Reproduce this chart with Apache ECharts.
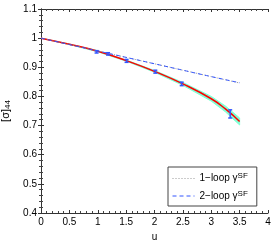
<!DOCTYPE html>
<html><head><meta charset="utf-8">
<script src="https://cdn.jsdelivr.net/npm/echarts@6/dist/echarts.min.js"></script>
<style>html,body{margin:0;padding:0;background:#fff}#c{width:278px;height:241px}</style>
</head><body><div id="c"></div>
<script>
// ---- data ----
var fitU    = [0, 0.5, 1.0, 1.5, 2.0, 2.5, 3.0, 3.25, 3.5];
var fitVal  = [1.000, 0.979, 0.955, 0.923, 0.886, 0.843, 0.792, 0.757, 0.714];
var fitErr  = [0.000, 0.001, 0.002, 0.002, 0.003, 0.005, 0.008, 0.010, 0.012];
var ptU     = [0, 0.5, 1.0, 1.5, 2.0, 2.5, 3.0, 3.5];
var oneLoop = [1.000, 0.978, 0.956, 0.934, 0.912, 0.890, 0.868, 0.846];
var twoLoop = [1.000, 0.978, 0.956, 0.934, 0.912, 0.890, 0.868, 0.847];
var dataU   = [0.9793, 1.1814, 1.5078, 2.0142, 2.4792, 3.3340];
var dataVal = [0.953, 0.946, 0.922, 0.885, 0.843, 0.740];
var dataErr = [0.004, 0.004, 0.005, 0.005, 0.006, 0.014];
var xTicks  = ['0','0.5','1','1.5','2','2.5','3','3.5','4'];
var yTicks  = ['0.4','0.5','0.6','0.7','0.8','0.9','1','1.1'];

var chart = echarts.init(document.getElementById('c'), null, {renderer:'canvas'});
function zip(a,b){return a.map(function(v,i){return [v,b[i]];});}
var bandData = fitU.map(function(u,i){return [u, fitVal[i]-fitErr[i], fitVal[i]+fitErr[i]];});
var errData = dataU.map(function(u,i){return [u, dataVal[i]-dataErr[i], dataVal[i]+dataErr[i]];});

var font = 'Liberation Sans';
var tickCommon = {
  axisLine:{show:true,lineStyle:{color:'#333',width:1}},
  axisTick:{show:true,inside:true,length:3,lineStyle:{color:'#333'}},
  minorTick:{show:true,splitNumber:5,length:2,lineStyle:{color:'#444'}},
  splitLine:{show:false}
};
function ax(extra){return Object.assign({}, JSON.parse(JSON.stringify(tickCommon)), extra);}

chart.setOption({
  animation:false,
  backgroundColor:'#fff',
  grid:{left:41,top:9,right:10,bottom:28,containLabel:false,outerBoundsMode:'none'},
  xAxis:[
    ax({type:'value',min:0,max:4,interval:0.5,position:'bottom',
      name:'u',nameLocation:'middle',nameGap:17,
      nameTextStyle:{fontFamily:font,fontSize:10,color:'#000'},
      axisLabel:{fontFamily:font,fontSize:10,color:'#000',margin:4,
        formatter:function(v){return xTicks[Math.round(v/0.5)];}}}),
    ax({type:'value',min:0,max:4,interval:0.5,position:'top',axisLabel:{show:false}})
  ],
  yAxis:[
    ax({type:'value',min:0.4,max:1.1,interval:0.1,position:'left',
      name:'{a|[σ]}{s|44}',nameLocation:'middle',nameGap:28,nameRotate:90,
      nameTextStyle:{fontFamily:font,fontSize:10,color:'#000',
        rich:{a:{fontFamily:font,fontSize:11,color:'#000'},s:{fontFamily:font,fontSize:8,color:'#000',verticalAlign:'bottom',padding:[5,0,0,0]}}},
      axisLabel:{fontFamily:font,fontSize:10,color:'#000',margin:4,
        formatter:function(v){return yTicks[Math.round((v-0.4)/0.1)];}}}),
    ax({type:'value',min:0.4,max:1.1,interval:0.1,position:'right',axisLabel:{show:false}})
  ],
  legend:{
    show:true,orient:'vertical',left:168,top:167,
    data:['1-loop','2-loop'],
    itemWidth:22,itemHeight:8,itemGap:6,
    itemStyle:{opacity:0},
    lineStyle:{width:1},
    borderColor:'#444',borderWidth:1,padding:[5,9,5,4],borderRadius:0,
    backgroundColor:'#fff',
    formatter:function(n){return n==='1-loop'?'{t|1−loop γ}{s|SF}':'{t|2−loop γ}{s|SF}';},
    textStyle:{fontFamily:font,fontSize:10,color:'#000',
      rich:{t:{fontFamily:font,fontSize:10,color:'#000'},s:{fontFamily:font,fontSize:8,color:'#000',verticalAlign:'top',padding:[0,0,5,0]}}}
  },
  series:[
    {type:'custom',name:'band',data:[[0]],silent:true,z:1,
      renderItem:function(params,api){
        var up=[],dn=[];
        bandData.forEach(function(d){up.push(api.coord([d[0],d[2]]));dn.push(api.coord([d[0],d[1]]));});
        var pts=up.concat(dn.reverse());
        return {type:'polygon',shape:{points:pts},style:{fill:'#7fffd4',stroke:'#7fffd4',lineWidth:1}};
      }},
    {type:'line',name:'fit',data:zip(fitU,fitVal),symbol:'none',smooth:true,z:3,
      lineStyle:{color:'#ff0000',width:1.5}},
    {type:'line',name:'1-loop',data:zip(ptU,oneLoop),symbol:'none',smooth:true,z:3,
      itemStyle:{color:'#999'},
      lineStyle:{color:'#999',width:1,type:[1,2]}},
    {type:'line',name:'2-loop',data:zip(ptU,twoLoop),symbol:'none',smooth:true,z:3,
      itemStyle:{color:'#3355ff'},
      lineStyle:{color:'#3355ff',width:1,type:[4,3]}},
    {type:'custom',name:'data',data:errData,z:4,
      renderItem:function(params,api){
        var x=api.value(0),lo=api.value(1),hi=api.value(2);
        var p1=api.coord([x,lo]),p2=api.coord([x,hi]);
        var w=2;
        var st={stroke:'#3355ff',lineWidth:1.5};
        return {type:'group',children:[
          {type:'line',shape:{x1:p1[0],y1:p1[1],x2:p2[0],y2:p2[1]},style:st},
          {type:'line',shape:{x1:p1[0]-w,y1:p1[1],x2:p1[0]+w,y2:p1[1]},style:st},
          {type:'line',shape:{x1:p2[0]-w,y1:p2[1],x2:p2[0]+w,y2:p2[1]},style:st}
        ]};
      }}
  ]
});
</script></body></html>
